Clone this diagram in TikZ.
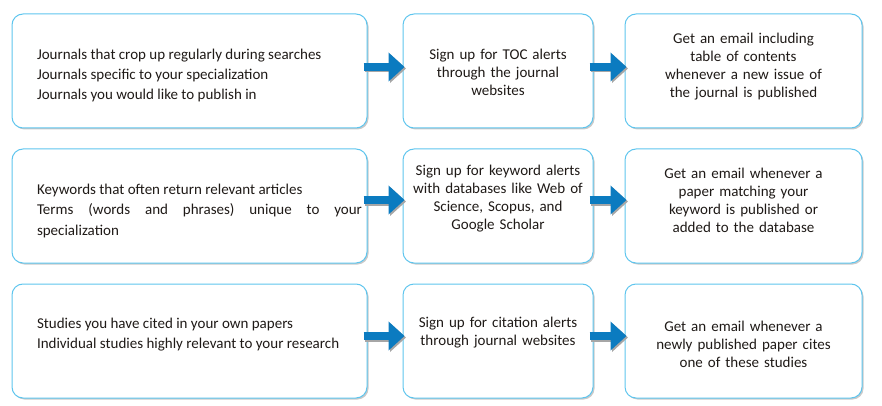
\documentclass[tikz,border=0pt]{standalone}
\usepackage{fontspec}
\setmainfont{Carlito}
\usetikzlibrary{arrows.meta,shadows,calc}
\definecolor{boxblue}{HTML}{5EC5EE}
\definecolor{arrblue}{HTML}{0B7BC0}
\definecolor{txtcol}{HTML}{1F1A17}
\begin{document}
\begin{tikzpicture}[x=1pt,y=-1pt,
  box/.style={draw=boxblue,line width=1pt,rounded corners=11pt,fill=white,
    minimum height=114pt,inner sep=0pt,
    drop shadow={shadow xshift=1.5pt,shadow yshift=-1.5pt,opacity=0.35,fill=black!60}},
  boxA/.style={box,minimum width=355pt},
  boxB/.style={box,minimum width=190pt},
  boxC/.style={box,minimum width=237pt},
  txt/.style={text=txtcol,font=\fontsize{15}{18}\selectfont,inner sep=0pt,align=center},
  txtA/.style={txt,font=\fontsize{15}{20}\selectfont,text width=325pt,align=justify},
  flow/.style={draw=arrblue,line width=8pt,-{Triangle[length=16pt,width=28pt,fill=arrblue]}},
  flowsh/.style={draw=black!35,line width=8pt,-{Triangle[length=16pt,width=28pt,fill=black!35]}}
]
\useasboundingbox (0,0) rectangle (882,406);
% boxes
\node[boxA] (a1) at (189.5,71) {};
\node[boxB] (b1) at (498,71) {};
\node[boxC] (c1) at (743.5,71) {};
\node[boxA] (a2) at (189.5,206) {};
\node[boxB] (b2) at (498,206) {};
\node[boxC] (c2) at (743.5,206) {};
\node[boxA] (a3) at (189.5,341) {};
\node[boxB] (b3) at (498,341) {};
\node[boxC] (c3) at (743.5,341) {};
% texts
\node[txtA,anchor=center] (ta1) at ($(a1.center)+(10,5)$) {Journals that crop up regularly during searches\\Journals specific to your specialization\\Journals you would like to publish in};
\node[txtA,anchor=center] (ta2) at ($(a2.center)+(10,5)$) {Keywords that often return relevant articles\\\makebox[\linewidth][s]{Terms (words and phrases) unique to your}\\specialization};
\node[txtA,anchor=center] (ta3) at ($(a3.center)+(10,-6)$) {Studies you have cited in your own papers\\Individual studies highly relevant to your research};
\node[txt,text width=180pt] (tb1) at ($(b1.center)+(0,1)$) {Sign up for TOC alerts\\through the journal\\websites};
\node[txt,text width=180pt] (tb2) at ($(b2.center)+(0,-7)$) {Sign up for keyword alerts\\with databases like Web of\\Science, Scopus, and\\Google Scholar};
\node[txt,text width=180pt] (tb3) at ($(b3.center)+(0,-8)$) {Sign up for citation alerts\\through journal websites};
\node[txt,text width=225pt] (tc1) at ($(c1.center)+(0,-4)$) {Get an email including\\table of contents\\whenever a new issue of\\the journal is published};
\node[txt,text width=225pt] (tc2) at ($(c2.center)+(0,-6)$) {Get an email whenever a\\paper matching your\\keyword is published or\\added to the database};
\node[txt,text width=225pt] (tc3) at ($(c3.center)+(0,3)$) {Get an email whenever a\\newly published paper cites\\one of these studies};
% arrows
\foreach \s/\t/\dy in {a1/b1/4,b1/c1/4,a2/b2/6,b2/c2/6,a3/b3/5,b3/c3/5}{
  \draw[flowsh] ([xshift=-2.5pt,yshift=\dy pt-1.5pt]\s.east) -- ([xshift=3.5pt,yshift=\dy pt-1.5pt]\t.west);
  \draw[flow] ([xshift=-4pt,yshift=\dy pt]\s.east) -- ([xshift=2pt,yshift=\dy pt]\t.west);
}
\end{tikzpicture}
\end{document}
